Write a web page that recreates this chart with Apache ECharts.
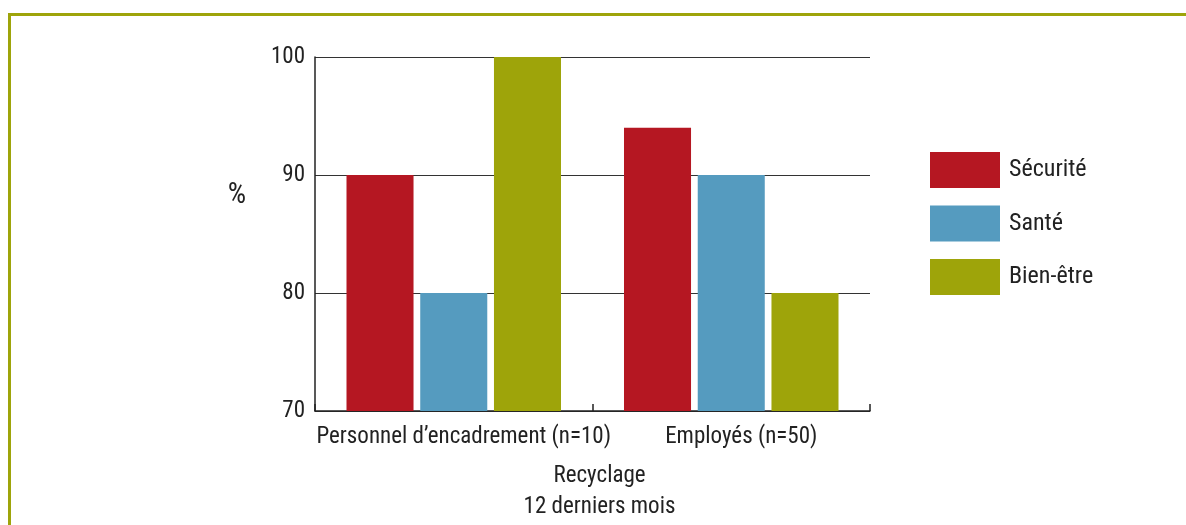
<!DOCTYPE html>
<html>
<head>
<meta charset="utf-8">
<script src="https://cdn.jsdelivr.net/npm/echarts@6/dist/echarts.min.js"></script>
<style>html,body{margin:0;padding:0;background:#fff;}#c{width:1186px;height:525px;}</style>
</head>
<body>
<div id="c"></div>
<script>
const categories = ["Personnel d\u2019encadrement (n=10)", "Employés (n=50)"];
const seriesNames = ["Sécurité", "Santé", "Bien-être"];
const securite = [90, 94];
const sante = [80, 90];
const bienEtre = [100, 80];
const yTicks = [70, 80, 90, 100];
const colors = ["#B51722", "#559BBF", "#9EA40A"];
const FONT = "Roboto Condensed";
const FS = 23;
const TXT = "#222222";

const chart = echarts.init(document.getElementById('c'));
const values = [securite, sante, bienEtre];
chart.setOption({
  animation: false,
  backgroundColor: '#ffffff',
  textStyle: { fontFamily: FONT, color: TXT },
  grid: { left: 315, top: 57, right: 316, bottom: 114, containLabel: false, outerBoundsMode: 'none' },
  legend: {
    orient: 'vertical', left: 925, top: 147,
    itemWidth: 70, itemHeight: 36, itemGap: 17.5,
    icon: 'rect',
    textStyle: { fontSize: 24, color: TXT, fontFamily: FONT, padding: [0, 0, 0, 4] },
    data: seriesNames
  },
  xAxis: {
    type: 'category', data: categories,
    axisLine: { lineStyle: { color: '#222', width: 1.5 } },
    axisTick: { show: true, inside: true, length: 7, lineStyle: { color: '#222', width: 1.5 } },
    axisLabel: { fontSize: FS, color: TXT, fontFamily: FONT, margin: 15, interval: 0, padding: [0, 0, 0, 20] },
    name: 'Recyclage\n12 derniers mois', nameLocation: 'middle', nameGap: 50,
    nameTextStyle: { fontSize: FS, color: TXT, fontFamily: FONT, lineHeight: 31, padding: [0, 0, 0, 14] }
  },
  yAxis: {
    type: 'value', min: 70, max: 100, interval: 10,
    axisLine: { show: true, lineStyle: { color: '#222', width: 1.5 } },
    axisTick: { show: false },
    axisLabel: { fontSize: FS, color: TXT, fontFamily: FONT, margin: 10,
      formatter: v => yTicks.includes(v) ? String(v) : '' },
    splitLine: { lineStyle: { color: '#333', width: 1.2 } }
  },
  series: seriesNames.map((n, i) => ({
    name: n, type: 'bar', data: values[i],
    barGap: '10%', barCategoryGap: '22.7%',
    itemStyle: { color: colors[i] }
  })),
  graphic: [
    { type: 'rect', shape: { x: 9.5, y: 14.5, width: 1300, height: 600 },
      style: { fill: 'none', stroke: '#9EA40A', lineWidth: 3 }, silent: true, z: -1 },
    { type: 'text', x: 237, y: 196,
      style: { text: '%', fontSize: 29, fontFamily: FONT, fill: TXT, align: 'center', verticalAlign: 'middle' } }
  ]
});
</script>
</body>
</html>
